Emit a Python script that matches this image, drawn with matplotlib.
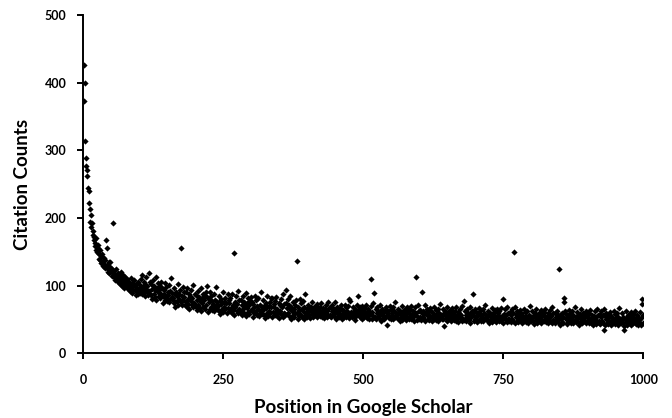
import numpy as np
import matplotlib
matplotlib.use('Agg')
import matplotlib.pyplot as plt

################# DATOS ############################

# citation counts, position 1..1000 in order
citation_counts = [
    426, 373, 400, 314, 288, 277, 271, 262, 245, 240, 222, 213, 194, 204, 186, 192, 181, 175, 168, 172,
    163, 158, 170, 152, 149, 160, 155, 146, 140, 152, 138, 144, 133, 147, 136, 129, 141, 132, 126, 138,
    167, 131, 155, 124, 120, 135, 118, 127, 135, 122, 114, 125, 119, 193, 112, 121, 116, 108, 124, 113,
    110, 118, 105, 116, 111, 102, 120, 107, 113, 99, 109, 115, 104, 96, 112, 101, 107, 98, 110, 103,
    95, 106, 100, 92, 111, 97, 104, 89, 101, 94, 108, 93, 99, 86, 103, 91, 97, 105, 88, 95,
    101, 89, 109, 94, 115, 87, 98, 91, 106, 84, 103, 95, 112, 90, 100, 86, 119, 92, 105, 88,
    86, 102, 80, 95, 108, 88, 99, 83, 93, 112, 78, 97, 90, 104, 84, 94, 81, 100, 87, 106,
    96, 84, 74, 93, 88, 79, 104, 82, 98, 77, 90, 86, 101, 75, 92, 80, 111, 83, 89, 78,
    81, 96, 74, 88, 69, 91, 84, 77, 102, 72, 87, 80, 93, 76, 156, 85, 71, 98, 78, 90,
    83, 71, 91, 76, 97, 69, 80, 73, 88, 66, 85, 77, 94, 72, 82, 68, 101, 74, 87, 70,
    70, 86, 64, 79, 92, 72, 83, 67, 77, 96, 62, 81, 74, 88, 68, 78, 65, 84, 71, 90,
    83, 99, 61, 80, 75, 66, 91, 69, 85, 64, 77, 73, 88, 62, 79, 67, 98, 70, 76, 65,
    70, 85, 63, 77, 58, 80, 73, 66, 91, 61, 76, 69, 82, 65, 74, 74, 60, 87, 67, 79,
    74, 62, 82, 67, 88, 60, 71, 64, 148, 57, 76, 68, 85, 63, 73, 59, 92, 65, 78, 61,
    63, 79, 57, 72, 85, 65, 76, 60, 70, 89, 55, 74, 67, 81, 61, 71, 58, 77, 64, 83,
    76, 64, 54, 73, 68, 59, 84, 62, 78, 57, 70, 66, 81, 55, 72, 60, 91, 63, 69, 58,
    64, 79, 57, 71, 52, 74, 67, 60, 85, 55, 70, 63, 76, 59, 82, 68, 54, 81, 61, 73,
    69, 57, 77, 62, 83, 55, 66, 59, 74, 52, 71, 63, 80, 58, 68, 54, 87, 60, 73, 56,
    58, 74, 93, 67, 80, 60, 71, 55, 65, 84, 50, 69, 62, 76, 56, 66, 53, 72, 59, 78,
    137, 60, 50, 69, 64, 55, 80, 58, 74, 53, 66, 62, 77, 51, 68, 56, 87, 59, 65, 54,
    61, 71, 56, 66, 52, 68, 63, 58, 75, 54, 65, 60, 69, 57, 70, 63, 54, 73, 58, 67,
    64, 55, 69, 59, 74, 54, 62, 57, 67, 52, 65, 60, 72, 56, 63, 53, 76, 57, 67, 55,
    57, 68, 53, 63, 72, 58, 66, 55, 62, 75, 51, 65, 60, 69, 55, 62, 53, 67, 57, 71,
    66, 58, 51, 64, 61, 54, 72, 56, 68, 53, 62, 59, 70, 52, 80, 55, 77, 57, 61, 54,
    58, 68, 53, 63, 49, 65, 60, 55, 72, 84, 62, 57, 66, 54, 68, 60, 51, 70, 55, 64,
    62, 53, 67, 57, 72, 52, 60, 55, 65, 50, 63, 58, 70, 110, 61, 51, 74, 55, 89, 53,
    54, 65, 50, 60, 69, 55, 63, 52, 59, 72, 48, 62, 57, 66, 52, 59, 50, 64, 54, 68,
    64, 56, 42, 62, 59, 52, 70, 54, 66, 51, 60, 57, 68, 50, 62, 53, 75, 55, 59, 52,
    56, 66, 51, 61, 47, 63, 58, 53, 70, 49, 60, 55, 64, 52, 64, 58, 49, 68, 53, 62,
    60, 51, 65, 55, 70, 50, 58, 53, 63, 48, 61, 56, 68, 113, 59, 49, 72, 53, 63, 51,
    53, 64, 49, 59, 90, 54, 62, 51, 58, 71, 47, 61, 56, 65, 51, 58, 49, 63, 53, 67,
    62, 54, 47, 60, 57, 50, 68, 52, 64, 49, 58, 55, 66, 48, 60, 51, 73, 53, 57, 50,
    55, 65, 50, 60, 40, 62, 57, 52, 69, 48, 59, 54, 63, 51, 62, 57, 48, 67, 52, 61,
    58, 49, 63, 53, 68, 48, 56, 51, 61, 46, 59, 54, 66, 50, 57, 47, 70, 51, 77, 49,
    51, 62, 47, 57, 66, 52, 60, 49, 56, 69, 45, 59, 54, 63, 88, 56, 47, 61, 51, 65,
    61, 53, 46, 59, 56, 49, 67, 51, 63, 48, 57, 54, 65, 47, 59, 50, 72, 52, 56, 49,
    53, 63, 48, 58, 44, 60, 55, 50, 67, 46, 57, 52, 61, 49, 64, 55, 46, 65, 50, 59,
    57, 48, 62, 52, 67, 47, 55, 50, 80, 45, 58, 53, 65, 49, 56, 46, 69, 50, 60, 48,
    50, 61, 46, 56, 65, 51, 59, 48, 150, 68, 44, 58, 53, 62, 48, 55, 46, 60, 50, 64,
    59, 51, 44, 57, 54, 47, 65, 49, 61, 46, 55, 52, 63, 45, 57, 48, 70, 50, 54, 47,
    52, 62, 47, 57, 43, 59, 54, 49, 66, 45, 56, 51, 60, 48, 58, 54, 45, 64, 49, 58,
    56, 47, 61, 51, 66, 46, 54, 49, 59, 44, 57, 52, 64, 48, 55, 45, 68, 49, 59, 47,
    48, 59, 44, 54, 63, 49, 57, 46, 53, 125, 42, 56, 51, 60, 46, 53, 44, 76, 81, 62,
    58, 50, 43, 56, 53, 46, 64, 48, 60, 45, 54, 51, 62, 44, 56, 47, 69, 49, 53, 46,
    51, 61, 46, 56, 42, 58, 53, 48, 65, 44, 55, 50, 59, 47, 56, 53, 44, 63, 48, 57,
    54, 45, 59, 49, 64, 44, 52, 47, 57, 42, 55, 50, 62, 46, 53, 43, 66, 47, 57, 45,
    47, 58, 43, 53, 62, 48, 56, 45, 35, 65, 41, 55, 50, 59, 45, 52, 43, 57, 47, 61,
    56, 48, 41, 54, 51, 44, 62, 46, 58, 43, 52, 49, 60, 42, 54, 45, 67, 47, 51, 44,
    49, 59, 44, 54, 40, 34, 51, 46, 63, 42, 53, 48, 57, 45, 56, 51, 42, 61, 46, 55,
    53, 44, 58, 48, 63, 43, 51, 46, 56, 41, 54, 49, 61, 45, 52, 42, 73, 80, 56, 44,
]
posiciones = np.arange(1, len(citation_counts) + 1)

x_ticks = [0, 250, 500, 750, 1000]
y_ticks = [0, 100, 200, 300, 400, 500]

FUENTE = ['Lato', 'DejaVu Sans']

################# GRAFICA ############################

fig = plt.figure(figsize=(6.72, 4.18), dpi=100)
ax = fig.add_axes([0.1235, 0.155, 0.834, 0.809])

ax.scatter(posiciones, citation_counts, marker='D', s=10, color='black', linewidths=0)

ax.set_xlim(0, 1000)
ax.set_ylim(0, 500)
ax.set_xticks(x_ticks)
ax.set_yticks(y_ticks)

for lado in ['top', 'right']:
    ax.spines[lado].set_visible(False)
for lado in ['left', 'bottom']:
    ax.spines[lado].set_linewidth(1.4)
    ax.spines[lado].set_color('black')

ax.tick_params(direction='out', length=4, width=1.4, labelsize=9)
ax.tick_params(axis='x', pad=11)
ax.tick_params(axis='y', pad=8)
for etiqueta in ax.get_xticklabels() + ax.get_yticklabels():
    etiqueta.set_family(FUENTE)
    etiqueta.set_fontweight('bold')

ax.set_xlabel('Position in Google Scholar', fontsize=13.5, fontweight='bold', family=FUENTE, labelpad=9)
ax.set_ylabel('Citation Counts', fontsize=13.5, fontweight='bold', family=FUENTE, labelpad=10)

fig.savefig('out.png', dpi=100)
